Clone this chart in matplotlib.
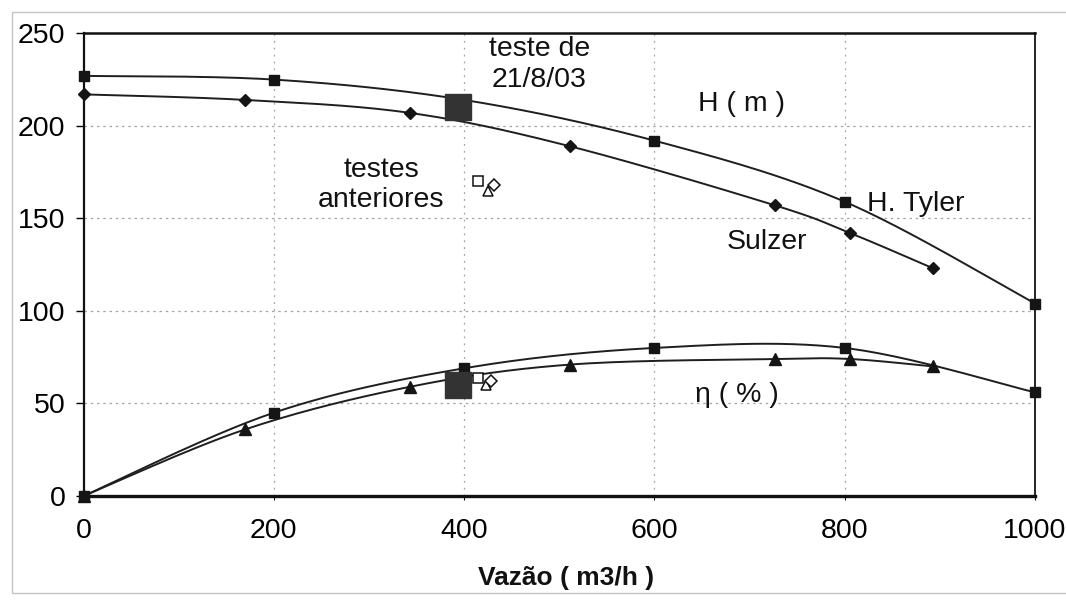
import numpy as np
import matplotlib
matplotlib.use("Agg")
import matplotlib.pyplot as plt
from matplotlib.patches import Rectangle

plt.rcParams['font.family'] = ['Liberation Sans', 'DejaVu Sans']

# Head curves H (m)
tyler_q = [0, 200, 400, 600, 800, 1000]
tyler_h = [227, 225, 214, 192, 159, 104]
sulzer_q = [0, 170, 343, 511, 727, 806, 893]
sulzer_h = [217, 214, 207, 189, 157, 142, 123]

# Efficiency curves eta (%)
tyler_eff = [0, 45, 69, 80, 80, 56]
sulzer_eff = [0, 36, 59, 71, 74, 74, 70]

# Field test of 21/8/03
test_q = 394
test_h = 210
test_eff = 60

# Earlier tests (square, triangle, diamond)
prev_q = [415, 425, 431]
prev_h = [170, 165, 168]
prev_eff_q = [415, 423, 428]
prev_eff = [64, 60, 62]

xticks = [0, 200, 400, 600, 800, 1000]
yticks = [0, 50, 100, 150, 200, 250]


def smooth(xs, ys, n=30):
    """Smoothed line through the points (Bezier with Catmull-Rom tangents)."""
    p = np.column_stack([xs, ys]).astype(float)
    ext = np.vstack([p[0], p, p[-1]])
    out = []
    t = np.linspace(0, 1, n)[:, None]
    for i in range(len(p) - 1):
        p0, p1, p2, p3 = ext[i], ext[i + 1], ext[i + 2], ext[i + 3]
        c1 = p1 + (p2 - p0) / 6.0
        c2 = p2 - (p3 - p1) / 6.0
        seg = ((1 - t) ** 3) * p1 + 3 * ((1 - t) ** 2) * t * c1 \
            + 3 * (1 - t) * t ** 2 * c2 + t ** 3 * p2
        out.append(seg if i == 0 else seg[1:])
    s = np.vstack(out)
    return s[:, 0], s[:, 1]


fig = plt.figure(figsize=(10.66, 6.03), dpi=100)
fig.patch.set_facecolor('white')

# light outer chart border
fig.patches.append(Rectangle((12 / 1066, 1 - 593 / 603), 1.2, (593 - 12) / 603,
                             transform=fig.transFigure, fill=False,
                             edgecolor='#c4c4c4', lw=1.0))

ax = fig.add_axes([83.5 / 1066, 1 - 496 / 603, (1035 - 83.5) / 1066, (496 - 33.3) / 603])
ax.set_xlim(0, 1000)
ax.set_ylim(0, 250)
ax.set_xticks(xticks)
ax.set_yticks(yticks)
ax.tick_params(axis='both', labelsize=20.5, colors='black', direction='out')
ax.tick_params(axis='y', length=6, width=1, pad=7)
ax.tick_params(axis='x', length=3, width=0.8, pad=13)

for g in xticks[1:-1]:
    ax.axvline(g, color='#a5a5a5', lw=0.9, ls=(0, (1.5, 4)), zorder=0)
for g in yticks[1:-1]:
    ax.axhline(g, color='#a5a5a5', lw=0.9, ls=(0, (2, 3)), zorder=0)

for side, lw in [('left', 1.6), ('bottom', 2.4), ('top', 1.8), ('right', 1.3)]:
    ax.spines[side].set_linewidth(lw)
    ax.spines[side].set_color('#111111')

line_kw = dict(color='#1e1e1e', lw=1.4, zorder=2, clip_on=False)
for q, v in [(tyler_q, tyler_h), (sulzer_q, sulzer_h),
             (tyler_q, tyler_eff), (sulzer_q, sulzer_eff)]:
    sx, sy = smooth(q, v)
    ax.plot(sx, sy, **line_kw)

mk = dict(ls='none', color='#151515', zorder=3, clip_on=False)
ax.plot(tyler_q, tyler_h, marker='s', ms=7.5, **mk)
ax.plot(sulzer_q, sulzer_h, marker='D', ms=6.5, **mk)
ax.plot(tyler_q, tyler_eff, marker='s', ms=7.5, **mk)
ax.plot(sulzer_q, sulzer_eff, marker='^', ms=8.5, **mk)

# 21/8/03 test
ax.plot([test_q, test_q], [test_h, test_eff], ls='none', marker='s', ms=19,
        color='#333333', zorder=4)

# earlier tests: open markers
open_kw = dict(ls='none', mfc='white', mec='#111111', mew=1.1, zorder=5)
for shape, qh, h, qe, e in zip(['s', '^', 'D'], prev_q, prev_h, prev_eff_q, prev_eff):
    size = 7 if shape != 'D' else 6.5
    ax.plot([qh], [h], marker=shape, ms=size, **open_kw)
    ax.plot([qe], [e], marker=shape, ms=size, **open_kw)

txt = dict(fontsize=20.5, color='#111111', ha='center', va='center')
ax.text(479, 233, 'teste de\n21/8/03', linespacing=1.25, **txt)
ax.text(692, 212, 'H ( m )', **txt)
ax.text(313, 168, 'testes\nanteriores', linespacing=1.2, **txt)
ax.text(823, 157.5, 'H. Tyler', fontsize=20.5, color='#111111', ha='left', va='center')
ax.text(718, 137, 'Sulzer', **txt)
ax.text(687, 54.5, 'η ( % )', **txt)

fig.text(566 / 1066, 1 - 578 / 603, 'Vazão ( m3/h )', fontsize=19, fontweight='bold',
         ha='center', va='center', color='#111111')

fig.savefig('out.png', dpi=100, facecolor='white')
